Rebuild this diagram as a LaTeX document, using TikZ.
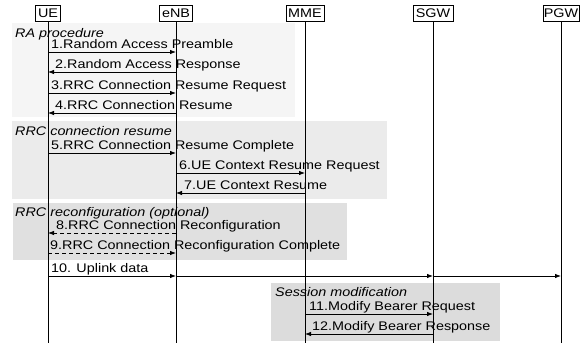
\documentclass[tikz,border=0pt]{standalone}
\usepackage{fontspec}
\setmainfont{Liberation Sans}[FakeStretch=1.15]
\usetikzlibrary{arrows.meta}
\definecolor{regA}{HTML}{F5F5F5}
\definecolor{regB}{HTML}{EBEBEB}
\definecolor{regC}{HTML}{E0E0E0}
\definecolor{regD}{HTML}{DCDCDC}
\begin{document}
\begin{tikzpicture}[x=1pt,y=-1pt,
  font=\fontsize{12.5}{14}\selectfont,
  entity/.style={draw, fill=white, line width=0.7pt, inner sep=0pt, minimum height=16pt},
  lifeline/.style={line width=0.8pt},
  msg/.style={line width=0.8pt, -{Latex[length=6pt,width=4.5pt]}},
  dmsg/.style={msg, dash pattern=on 4pt off 3pt},
  lbl/.style={anchor=base west, inner sep=0pt},
  grp/.style={anchor=base west, inner sep=0pt, font=\fontsize{12.5}{14}\selectfont\itshape}
]
\useasboundingbox (0,0) rectangle (587,343);
% regions
\fill[regA] (12,23) rectangle (295,117);
\fill[regB] (12,121) rectangle (387,199);
\fill[regC] (13,203) rectangle (347,260);
\fill[regD] (271,283) rectangle (500,341);
% entities
\node[entity, minimum width=25pt] (ue)  at (48,13)  {UE};
\node[entity, minimum width=33pt] (enb) at (176,13) {eNB};
\node[entity, minimum width=38pt] (mme) at (305,13) {MME};
\node[entity, minimum width=40pt] (sgw) at (433,13) {SGW};
\node[entity, minimum width=36pt] (pgw) at (561,13) {PGW};
% lifelines
\foreach \n in {ue,enb,mme,sgw,pgw}{
  \coordinate (\n-end) at (\n.south |- 0,343);
  \draw[lifeline] (\n.south) -- (\n-end);
}
% group labels
\node[grp] (g1) at (15,37.5) {RA procedure};
\node[grp] (g2) at (15,135) {RRC connection resume};
\node[grp] (g3) at (15,216) {RRC reconfiguration (optional)};
\node[grp] (g4) at (275,296) {Session modification};
% messages
\draw[msg] (ue |- 0,52) -- (enb |- 0,52);
\node[lbl] (m1) at (51,48.5) {1.Random Access Preamble};
\draw[msg] (enb |- 0,72) -- (ue |- 0,72);
\node[lbl] (m2) at (55,68.5) {2.Random Access Response};
\draw[msg] (ue |- 0,93) -- (enb |- 0,93);
\node[lbl] (m3) at (51,89.5) {3.RRC Connection Resume Request};
\draw[msg] (enb |- 0,113) -- (ue |- 0,113);
\node[lbl] (m4) at (55,109.5) {4.RRC Connection Resume};
\draw[msg] (ue |- 0,153) -- (enb |- 0,153);
\node[lbl] (m5) at (51,149.5) {5.RRC Connection Resume Complete};
\draw[msg] (enb |- 0,173) -- (mme |- 0,173);
\node[lbl] (m6) at (179,169.5) {6.UE Context Resume Request};
\draw[msg] (mme |- 0,193) -- (enb |- 0,193);
\node[lbl] (m7) at (184,189.5) {7.UE Context Resume};
\draw[dmsg] (enb |- 0,233) -- (ue |- 0,233);
\node[lbl] (m8) at (56,229.5) {8.RRC Connection Reconfiguration};
\draw[dmsg] (ue |- 0,253) -- (enb |- 0,253);
\node[lbl] (m9) at (50,249.5) {9.RRC Connection Reconfiguration Complete};
\draw[msg] (ue |- 0,276) -- (enb |- 0,276);
\draw[msg] (enb |- 0,276) -- (sgw |- 0,276);
\draw[msg] (sgw |- 0,276) -- (pgw |- 0,276);
\node[lbl] (m10) at (51,272.5) {10. Uplink data};
\draw[msg] (mme |- 0,314) -- (sgw |- 0,314);
\node[lbl] (m11) at (309,310.5) {11.Modify Bearer Request};
\draw[msg] (sgw |- 0,334) -- (mme |- 0,334);
\node[lbl] (m12) at (312,330.5) {12.Modify Bearer Response};
\end{tikzpicture}
\end{document}
